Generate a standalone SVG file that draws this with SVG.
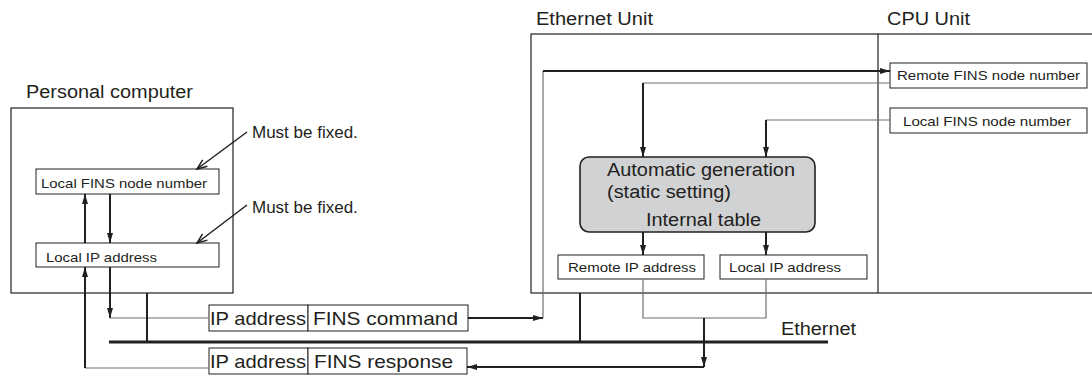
<svg xmlns="http://www.w3.org/2000/svg" width="1092" height="376" viewBox="0 0 1092 376">
<defs>
<style>
text{font-family:"Liberation Sans",Arial,sans-serif;fill:#231f20}
.lbl{font-size:18px}
.note{font-size:17px}
.big{font-size:19px}
.sm{font-size:13px}
.box{fill:#fff;stroke:#231f20;stroke-width:1}
.frame{fill:none;stroke:#231f20;stroke-width:1.2}
.thk{fill:none;stroke:#231f20;stroke-width:2}
.thn{fill:none;stroke:#6d6e71;stroke-width:1.2}
.eth{fill:none;stroke:#231f20;stroke-width:3}
.ptr{fill:none;stroke:#231f20;stroke-width:1.5}
</style>
<marker id="ah" viewBox="0 0 10 6" refX="10" refY="3" markerWidth="10" markerHeight="6" orient="auto" markerUnits="userSpaceOnUse">
<path d="M0,0 L10,3 L0,6 z" fill="#231f20"/>
</marker>
<marker id="oa" viewBox="0 0 12 10" refX="11" refY="5" markerWidth="12" markerHeight="10" orient="auto" markerUnits="userSpaceOnUse">
<path d="M1,1 L11,5 L1,9" fill="none" stroke="#231f20" stroke-width="1.5"/>
</marker>
</defs>

<g id="pc">
<text class="lbl" x="26" y="98" textLength="167" lengthAdjust="spacingAndGlyphs">Personal computer</text>
<rect class="frame" x="11" y="108" width="222" height="185"/>
</g>
<g id="pc-fins">
<rect class="box" x="36" y="169" width="183" height="25"/>
<text class="sm" x="41" y="188" textLength="166" lengthAdjust="spacingAndGlyphs">Local FINS node number</text>
</g>
<g id="pc-ip">
<rect class="box" x="36" y="243" width="183" height="24"/>
<text class="sm" x="46" y="262" textLength="111" lengthAdjust="spacingAndGlyphs">Local IP address</text>
</g>
<g id="note1">
<text class="note" x="252" y="138">Must be fixed.</text>
</g>
<g id="note2">
<text class="note" x="252" y="213">Must be fixed.</text>
</g>

<g id="eth-unit">
<text class="lbl" x="536" y="25" textLength="117" lengthAdjust="spacingAndGlyphs">Ethernet Unit</text>
<rect class="frame" x="531" y="34" width="600" height="259"/>
</g>
<g id="cpu-unit">
<text class="lbl" x="887" y="25" textLength="83" lengthAdjust="spacingAndGlyphs">CPU Unit</text>
<line class="frame" x1="878" y1="34" x2="878" y2="293"/>
</g>
<g id="remote-fins">
<rect class="box" x="890" y="63" width="197" height="25"/>
<text class="sm" x="897" y="80" textLength="183" lengthAdjust="spacingAndGlyphs">Remote FINS node number</text>
</g>
<g id="cpu-local-fins">
<rect class="box" x="890" y="108" width="197" height="25"/>
<text class="sm" x="903" y="126" textLength="168" lengthAdjust="spacingAndGlyphs">Local FINS node number</text>
</g>
<g id="auto-gen">
<rect x="580" y="157" width="235" height="75" rx="9" ry="9" fill="#d1d2d4" stroke="#231f20" stroke-width="1.6"/>
<text class="lbl" x="607" y="176" textLength="188" lengthAdjust="spacingAndGlyphs">Automatic generation</text>
<text class="lbl" x="607" y="198" textLength="124" lengthAdjust="spacingAndGlyphs">(static setting)</text>
<text class="lbl" x="646" y="226" textLength="115" lengthAdjust="spacingAndGlyphs">Internal table</text>
</g>
<g id="remote-ip">
<rect class="box" x="558" y="255" width="146" height="24"/>
<text class="sm" x="568" y="272" textLength="128" lengthAdjust="spacingAndGlyphs">Remote IP address</text>
</g>
<g id="local-ip">
<rect class="box" x="720" y="255" width="147" height="24"/>
<text class="sm" x="729" y="272" textLength="112" lengthAdjust="spacingAndGlyphs">Local IP address</text>
</g>

<g id="cmd-packet">
<rect class="box" x="209" y="305" width="99" height="26"/>
<rect class="box" x="308" y="305" width="160" height="26"/>
<text class="big" x="210" y="325" textLength="96" lengthAdjust="spacingAndGlyphs">IP address</text>
<text class="big" x="313" y="325" textLength="145" lengthAdjust="spacingAndGlyphs">FINS command</text>
</g>
<g id="resp-packet">
<rect class="box" x="209" y="348" width="99" height="26"/>
<rect class="box" x="308" y="348" width="159" height="26"/>
<text class="big" x="210" y="368" textLength="96" lengthAdjust="spacingAndGlyphs">IP address</text>
<text class="big" x="314" y="368" textLength="139" lengthAdjust="spacingAndGlyphs">FINS response</text>
</g>
<g id="ethernet">
<line class="eth" x1="109" y1="342" x2="828" y2="342"/>
<text class="lbl" x="781" y="335" textLength="75" lengthAdjust="spacingAndGlyphs">Ethernet</text>
</g>

<g id="connectors">
<line class="ptr" x1="247" y1="132" x2="197" y2="169" marker-end="url(#oa)"/>
<line class="ptr" x1="247" y1="205" x2="197" y2="243" marker-end="url(#oa)"/>
<line class="thk" x1="85" y1="243" x2="85" y2="194" marker-end="url(#ah)"/>
<line class="thk" x1="110" y1="194" x2="110" y2="243" marker-end="url(#ah)"/>
<line class="thn" x1="209" y1="368" x2="85" y2="368"/>
<line class="thk" x1="85" y1="368" x2="85" y2="267" marker-end="url(#ah)"/>
<line class="thk" x1="110" y1="267" x2="110" y2="318" marker-end="url(#ah)"/>
<line class="thn" x1="110" y1="318" x2="209" y2="318"/>
<line class="thk" x1="147" y1="293" x2="147" y2="342"/>
<line class="thk" x1="468" y1="318" x2="543" y2="318" marker-end="url(#ah)"/>
<line class="thn" x1="543" y1="318" x2="543" y2="71"/>
<line class="thk" x1="543" y1="71" x2="890" y2="71" marker-end="url(#ah)"/>
<line class="thn" x1="890" y1="83" x2="643" y2="83"/>
<line class="thk" x1="643" y1="83" x2="643" y2="157" marker-end="url(#ah)"/>
<line class="thn" x1="890" y1="120" x2="766" y2="120"/>
<line class="thk" x1="766" y1="120" x2="766" y2="157" marker-end="url(#ah)"/>
<line class="thk" x1="643" y1="232" x2="643" y2="255" marker-end="url(#ah)"/>
<line class="thk" x1="766" y1="232" x2="766" y2="255" marker-end="url(#ah)"/>
<polyline class="thn" points="643,279 643,318 766,318 766,279"/>
<line class="thk" x1="704" y1="318" x2="704" y2="367" marker-end="url(#ah)"/>
<line class="thk" x1="704" y1="367" x2="467" y2="367" marker-end="url(#ah)"/>
<line class="thk" x1="580" y1="293" x2="580" y2="342"/>
</g>
</svg>
